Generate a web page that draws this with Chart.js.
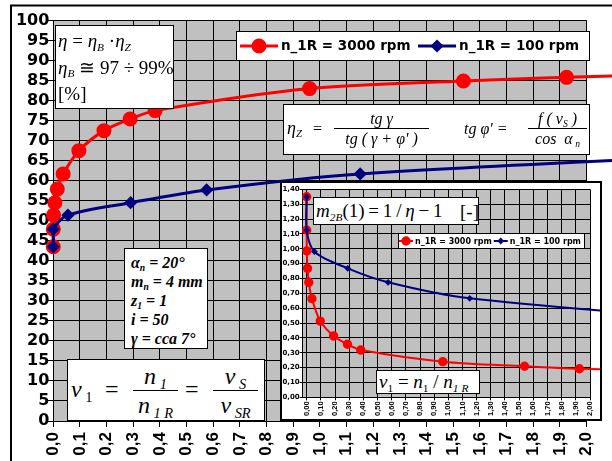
<!DOCTYPE html>
<html>
<head>
<meta charset="utf-8">
<script src="https://cdn.jsdelivr.net/npm/chart.js@4.4.0/dist/chart.umd.min.js"></script>
<style>
html, body { margin: 0; padding: 0; background: #fff; }
#wrap { position: relative; width: 612px; height: 461px; overflow: hidden; }
#main { position: absolute; left: 0; top: 0; }
#insetBox { position: absolute; left: 280px; top: 181px; width: 318px; height: 236px; border: 2px solid #000; background: #fff; }
#insetBox canvas { position: absolute; left: 0; top: 0; }
.box { position: absolute; box-sizing: border-box; background: #fff; border: 1px solid #000;
       font-family: "Liberation Serif", "Times New Roman", serif; color: #000; }
.box i { font-style: italic; }
.box .s { font-size: 0.6em; position: relative; top: 0.32em; line-height: 0; }
.abs { position: absolute; white-space: nowrap; }
.frac { position: absolute; display: flex; flex-direction: column; text-align: center; white-space: nowrap; }
.frac .den { border-top: 1px solid #000; }
</style>
</head>
<body>
<div id="wrap">
  <canvas id="main" width="612" height="461"></canvas>
  <div id="insetBox"><canvas id="inset" width="318" height="236"></canvas></div>

  <!-- text boxes of the main chart -->
  <div class="box" style="left:55px;top:25px;width:119px;height:84px;padding:2px 0 0 2px;font-size:19px;line-height:26.5px;white-space:nowrap">
    <div><i>η</i> = <i>η</i><i class="s">B</i>&nbsp;·<i>η</i><i class="s">Z</i></div>
    <div><i>η</i><i class="s">B</i> ≅ 97 ÷ 99%</div>
    <div>[%]</div>
  </div>

  <div class="box" style="left:283px;top:104px;width:307px;height:51px;font-size:16px;line-height:19px">
    <span class="abs" style="left:3px;top:14px;font-size:18px"><i>η</i><i class="s">Z</i></span>
    <span class="abs" style="left:29px;top:14px">=</span>
    <div class="frac" style="left:50px;top:4px;width:95px"><i>tg&nbsp;γ</i><i class="den">tg&nbsp;(&nbsp;γ&nbsp;+&nbsp;φ'&nbsp;)</i></div>
    <span class="abs" style="left:180px;top:14px"><i>tg&nbsp;φ'&nbsp;=</i></span>
    <div class="frac" style="left:244px;top:4px;width:59px"><i>f&nbsp;(&nbsp;v<span class="s">S</span>&nbsp;)</i><i class="den">cos&nbsp;&nbsp;α<span class="s">&nbsp;n</span></i></div>
  </div>

  <div class="box" style="left:124px;top:248px;width:84px;height:101px;padding:4px 0 0 6px;font-size:16px;line-height:19px;font-weight:bold;font-style:italic;white-space:nowrap">
    <div>α<span class="s">n</span> = 20°</div>
    <div>m<span class="s">n</span> = 4 mm</div>
    <div>z<span class="s">1</span> = 1</div>
    <div>i = 50</div>
    <div>γ = cca 7°</div>
  </div>

  <div class="box" style="left:67px;top:359px;width:198px;height:62px;font-size:24px;line-height:28px">
    <span class="abs" style="left:3px;top:15px"><i>ν</i><span class="s">&nbsp;1</span></span>
    <span class="abs" style="left:37px;top:15px">=</span>
    <div class="frac" style="left:65px;top:2px;width:45px"><i>n<span class="s">&nbsp;1</span></i><i class="den">n<span class="s">&nbsp;1&nbsp;R</span></i></div>
    <span class="abs" style="left:117px;top:15px">=</span>
    <div class="frac" style="left:145px;top:2px;width:45px"><i>v<span class="s">&nbsp;S</span></i><i class="den">v<span class="s">&nbsp;SR</span></i></div>
  </div>

  <!-- text boxes of the inset chart -->
  <div class="box" style="left:313px;top:197px;width:166px;height:28px;font-size:19px;line-height:25px;padding-left:2px;white-space:nowrap">
    <span><i>m</i><i class="s">2B</i>(1)&thinsp;=&thinsp;1&thinsp;/&thinsp;<i>η</i>&thinsp;−&thinsp;1</span><span class="abs" style="left:146px;top:1px">[-]</span>
  </div>
  <div class="box" style="left:376px;top:370px;width:104px;height:24px;font-size:19px;line-height:22px;padding-left:2px;white-space:nowrap">
    <i>ν</i><span class="s">1</span> = <i>n</i><span class="s">1</span> / <i>n</i><i class="s">1 R</i>
  </div>
</div>

<script>
// data: x = n1 / n1R, efficiency eta [%], m2B(1) = 1/eta - 1
const ratio3000 = [0, 0, 0.001, 0.006, 0.015, 0.037, 0.096, 0.19, 0.288, 0.382, 0.961, 1.538, 1.925, 2.5];
const eta3000 = [43.5, 47.9, 51.4, 54.5, 57.9, 61.7, 67.5, 72.5, 75.4, 77.5, 83.0, 84.9, 85.8, 86.9];
const m2b3000 = [1.35, 1.125, 0.985, 0.868, 0.774, 0.664, 0.513, 0.413, 0.357, 0.318, 0.240, 0.209, 0.192, 0.18];

const ratio100 = [0, 0, 0.055, 0.29, 0.575, 1.151, 2.88];
const eta100 = [43.5, 47.9, 51.4, 54.5, 57.7, 61.7, 67.5];
const m2b100 = [1.35, 1.125, 0.98, 0.868, 0.774, 0.666, 0.52];

const seriesNames = ['n_1R = 3000 rpm', 'n_1R = 100 rpm'];

const ratioTicks = [0, 0.1, 0.2, 0.3, 0.4, 0.5, 0.6, 0.7, 0.8, 0.9, 1.0,
                    1.1, 1.2, 1.3, 1.4, 1.5, 1.6, 1.7, 1.8, 1.9, 2.0];
const etaTicks = [0, 5, 10, 15, 20, 25, 30, 35, 40, 45, 50, 55, 60, 65, 70, 75, 80, 85, 90, 95, 100];
const m2bTicks = [0, 0.1, 0.2, 0.3, 0.4, 0.5, 0.6, 0.7, 0.8, 0.9, 1.0, 1.1, 1.2, 1.3, 1.4];

const RED = '#FF0000';
const NAVY = '#000080';
const PLOT_GRAY = '#C0C0C0';

function points(xs, ys) {
    return xs.map((x, i) => ({ x, y: ys[i] }));
}

function decimalComma(digits) {
    return v => Number(v).toFixed(digits).replace('.', ',');
}

// gray plot background + optional outer frame
const plotBackground = {
    id: 'plotBackground',
    beforeDraw(chart, args, opts) {
        const { ctx, chartArea } = chart;
        ctx.save();
        ctx.fillStyle = '#fff';
        ctx.fillRect(0, 0, chart.width, chart.height);
        if (opts.frame) {
            ctx.strokeStyle = '#000';
            ctx.lineWidth = 2;
            ctx.strokeRect(opts.frame.x, opts.frame.y, opts.frame.w, opts.frame.h);
        }
        ctx.fillStyle = PLOT_GRAY;
        ctx.fillRect(chartArea.left, chartArea.top, chartArea.right - chartArea.left, chartArea.bottom - chartArea.top);
        ctx.restore();
    }
};

// Excel style legend box placed inside the plot
const boxLegend = {
    id: 'boxLegend',
    afterDatasetsDraw(chart, args, o) {
        const ctx = chart.ctx;
        ctx.save();
        ctx.fillStyle = '#fff';
        ctx.fillRect(o.x, o.y, o.w, o.h);
        ctx.strokeStyle = '#000';
        ctx.lineWidth = 1;
        ctx.strokeRect(o.x + 0.5, o.y + 0.5, o.w - 1, o.h - 1);
        ctx.font = o.font;
        ctx.textBaseline = 'middle';
        const cy = o.y + o.h / 2;
        let cx = o.x + o.pad;
        chart.data.datasets.forEach(ds => {
            ctx.strokeStyle = ds.borderColor;
            ctx.lineWidth = ds.borderWidth;
            ctx.beginPath();
            ctx.moveTo(cx, cy);
            ctx.lineTo(cx + o.sample, cy);
            ctx.stroke();
            ctx.fillStyle = ds.pointBackgroundColor;
            ctx.strokeStyle = ds.pointBorderColor;
            Chart.helpers.drawPoint(ctx, { pointStyle: ds.pointStyle, radius: ds.pointRadius, borderWidth: 1, rotation: 0 }, cx + o.sample / 2, cy);
            cx += o.sample + o.gap;
            ctx.fillStyle = '#000';
            ctx.fillText(ds.label, cx, cy + 0.5);
            cx += ctx.measureText(ds.label).width + o.spacing;
        });
        ctx.restore();
    }
};

// main chart: efficiency
new Chart(document.getElementById('main'), {
    type: 'scatter',
    data: {
        datasets: [{
            label: seriesNames[0],
            data: points(ratio3000, eta3000),
            showLine: true,
            borderColor: RED,
            borderWidth: 3,
            pointStyle: 'circle',
            pointRadius: 6,
            pointBackgroundColor: RED,
            pointBorderColor: RED,
            tension: 0.3,
            clip: false,
            order: 2
        }, {
            label: seriesNames[1],
            data: points(ratio100, eta100),
            showLine: true,
            borderColor: NAVY,
            borderWidth: 3,
            pointStyle: 'rectRot',
            pointRadius: 4.5,
            pointBackgroundColor: NAVY,
            pointBorderColor: NAVY,
            tension: 0.3,
            clip: false,
            order: 1
        }]
    },
    options: {
        responsive: false,
        animation: false,
        events: [],
        layout: { padding: { top: 20.5, right: 10.3, left: 0, bottom: 0 } },
        plugins: {
            legend: { display: false },
            tooltip: { enabled: false },
            plotBackground: { frame: { x: 11, y: 5.5, w: 700, h: 600 } },
            boxLegend: { x: 236, y: 31, w: 354, h: 30, pad: 4, sample: 38, gap: 3, spacing: 7.5,
                         font: 'bold 13.5px "DejaVu Sans"' }
        },
        scales: {
            x: {
                type: 'linear',
                min: 0,
                max: 2,
                afterBuildTicks: s => { s.ticks = ratioTicks.map(value => ({ value })); },
                afterFit: s => { s.height = 40; },
                grid: { color: '#000', lineWidth: 1, tickLength: 6 },
                border: { color: '#000', width: 1 },
                ticks: {
                    autoSkip: false,
                    minRotation: 90, maxRotation: 90, padding: 5, color: '#000',
                    font: { family: 'Liberation Sans', weight: 'bold', size: 17 },
                    callback: decimalComma(1)
                }
            },
            y: {
                type: 'linear',
                min: 0,
                max: 100,
                afterBuildTicks: s => { s.ticks = etaTicks.map(value => ({ value })); },
                afterFit: s => { s.width = 53.3; },
                grid: { color: '#000', lineWidth: 1, tickLength: 6 },
                border: { color: '#000', width: 1 },
                ticks: {
                    autoSkip: false,
                    padding: -2, color: '#000',
                    font: { family: 'DejaVu Sans', weight: 'bold', size: 16 }
                }
            }
        }
    },
    plugins: [plotBackground, boxLegend]
});

// inset chart: m2B(1) = 1/eta - 1
new Chart(document.getElementById('inset'), {
    type: 'scatter',
    data: {
        datasets: [{
            label: seriesNames[0],
            data: points(ratio3000, m2b3000),
            showLine: true,
            borderColor: RED,
            borderWidth: 2,
            pointStyle: 'circle',
            pointRadius: 3.7,
            pointBackgroundColor: RED,
            pointBorderColor: RED,
            tension: 0.3,
            clip: false,
            order: 2
        }, {
            label: seriesNames[1],
            data: points(ratio100, m2b100),
            showLine: true,
            borderColor: NAVY,
            borderWidth: 2,
            pointStyle: 'rectRot',
            pointRadius: 2,
            pointBackgroundColor: NAVY,
            pointBorderColor: NAVY,
            tension: 0.3,
            clip: false,
            order: 1
        }]
    },
    options: {
        responsive: false,
        animation: false,
        events: [],
        layout: { padding: { top: 6.3, right: 7.3, left: 0, bottom: 0 } },
        plugins: {
            legend: { display: false },
            tooltip: { enabled: false },
            plotBackground: {},
            boxLegend: { x: 116, y: 50, w: 187, h: 16, pad: 1, sample: 14, gap: 2, spacing: 2,
                         font: 'bold 8px "DejaVu Sans"' }
        },
        scales: {
            x: {
                type: 'linear',
                min: -0.028,
                max: 2,
                afterBuildTicks: s => { s.ticks = ratioTicks.map(value => ({ value })); },
                afterFit: s => { s.height = 21.7; },
                grid: { color: '#000', lineWidth: 1, tickLength: 3 },
                border: { color: '#000', width: 1 },
                ticks: {
                    autoSkip: false,
                    minRotation: 90, maxRotation: 90, padding: 1, color: '#000',
                    font: { family: 'Liberation Sans', weight: 'bold', size: 7.5 },
                    callback: decimalComma(2)
                }
            },
            y: {
                type: 'linear',
                min: 0,
                max: 1.4,
                afterBuildTicks: s => { s.ticks = m2bTicks.map(value => ({ value })); },
                afterFit: s => { s.width = 20.7; },
                grid: { color: '#000', lineWidth: 1, tickLength: 3 },
                border: { color: '#000', width: 1 },
                ticks: {
                    autoSkip: false,
                    padding: 0, color: '#000',
                    font: { family: 'DejaVu Sans', weight: 'bold', size: 7 },
                    callback: decimalComma(2)
                }
            }
        }
    },
    plugins: [plotBackground, boxLegend]
});
</script>
</body>
</html>
